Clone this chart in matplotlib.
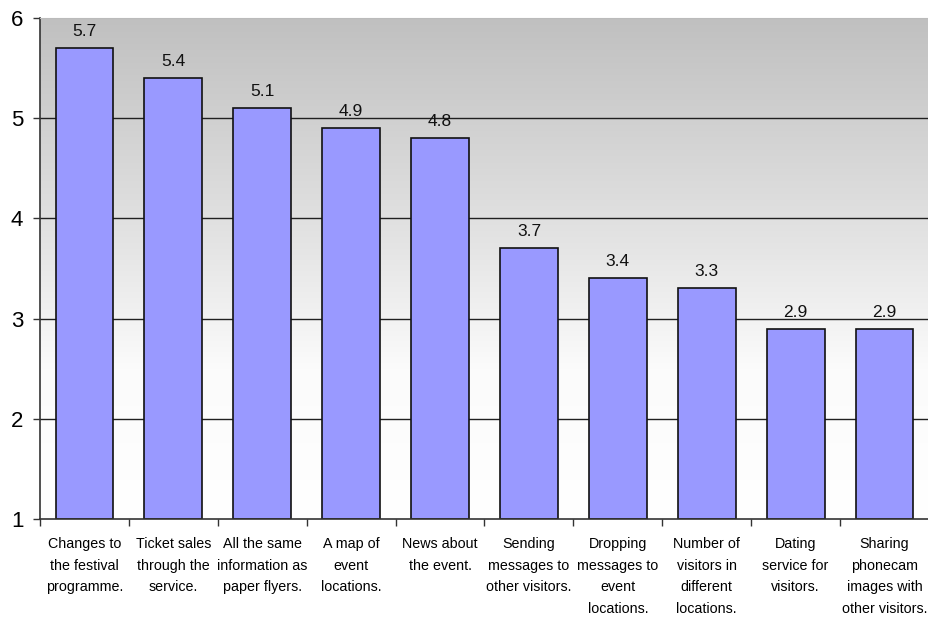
import numpy as np
import matplotlib
matplotlib.use("Agg")
import matplotlib.pyplot as plt
from matplotlib.colors import LinearSegmentedColormap

plt.rcParams['font.family'] = ['Liberation Sans', 'DejaVu Sans']

categories = [
    "Changes to\nthe festival\nprogramme.",
    "Ticket sales\nthrough the\nservice.",
    "All the same\ninformation as\npaper flyers.",
    "A map of\nevent\nlocations.",
    "News about\nthe event.",
    "Sending\nmessages to\nother visitors.",
    "Dropping\nmessages to\nevent\nlocations.",
    "Number of\nvisitors in\ndifferent\nlocations.",
    "Dating\nservice for\nvisitors.",
    "Sharing\nphonecam\nimages with\nother visitors.",
]
values = [5.7, 5.4, 5.1, 4.9, 4.8, 3.7, 3.4, 3.3, 2.9, 2.9]
y_ticks = [1, 2, 3, 4, 5, 6]

fig = plt.figure(figsize=(9.29, 6.2), dpi=100)
ax = fig.add_axes([0.043, 0.163, 0.957, 0.808])

n = len(categories)
x = np.arange(n)
ax.set_xlim(-0.5, n - 0.5)
ax.set_ylim(1, 6)

# grey-to-white vertical gradient behind the plot
grad = np.linspace(0, 1, 256).reshape(-1, 1)
cmap = LinearSegmentedColormap.from_list(
    "bg", [(0.0, "#ffffff"), (0.3, "#fbfbfb"), (0.55, "#e4e4e4"), (1.0, "#c0c0c0")])
ax.imshow(grad, aspect="auto", cmap=cmap, origin="lower",
          extent=(-0.5, n - 0.5, 1, 6), zorder=0)

for yv in y_ticks[1:-1]:
    ax.axhline(yv, color="#202020", linewidth=1.0, zorder=1)

bottom = y_ticks[0]
heights = [v - bottom for v in values]
ax.bar(x, heights, bottom=bottom, width=0.65, color="#9999ff",
       edgecolor="#111111", linewidth=1.2, zorder=2)

for xi, v in zip(x, values):
    ax.text(xi, v + 0.09, f"{v:.1f}", ha="center", va="bottom",
            fontsize=12.5, color="#111111", zorder=3)

ax.set_yticks(y_ticks)
ax.set_yticklabels([str(t) for t in y_ticks], fontsize=16)
ax.tick_params(axis="y", length=5, width=1, color="#333333", pad=7)

ax.set_xticks(x)
ax.set_xticklabels(categories, fontsize=10.3, linespacing=1.7, va="top")
ax.tick_params(axis="x", which="major", length=0, pad=13)
ax.set_xticks(np.arange(-0.5, n - 0.5, 1.0), minor=True)
ax.tick_params(axis="x", which="minor", length=5, width=1, color="#333333")

for side in ["left", "bottom"]:
    ax.spines[side].set_color("#333333")
    ax.spines[side].set_linewidth(1.2)
ax.spines["top"].set_color("#bbbbbb")
ax.spines["right"].set_visible(False)

fig.savefig("out.png", dpi=100)
